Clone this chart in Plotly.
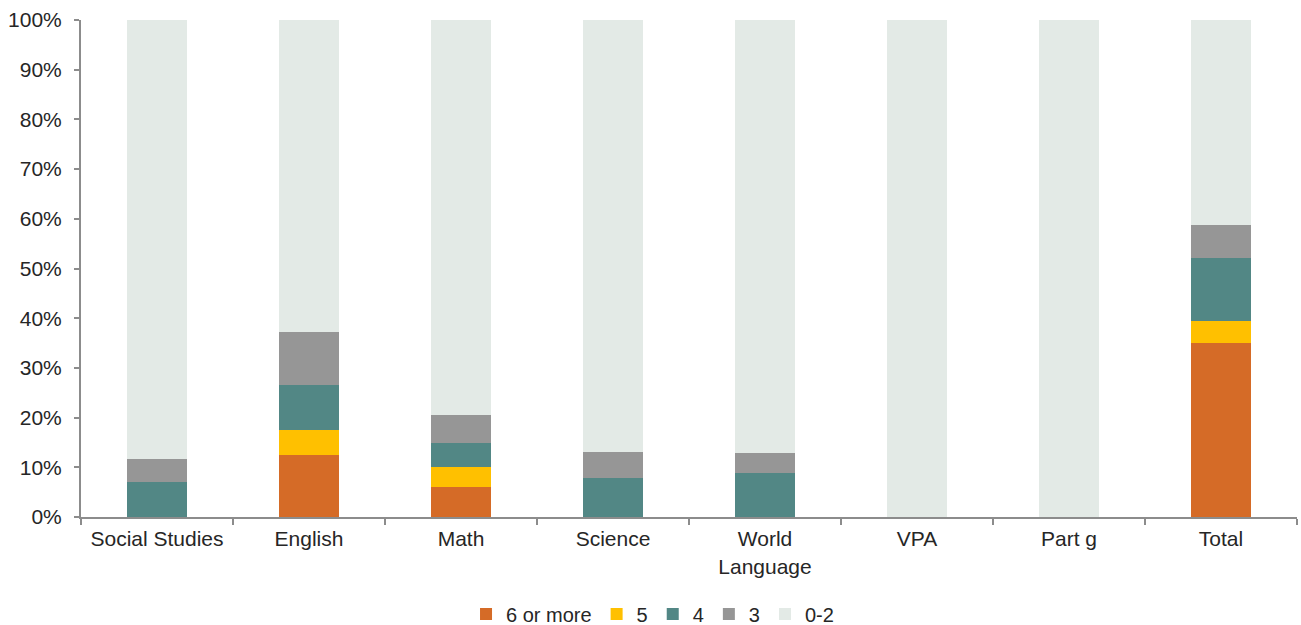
import plotly.graph_objects as go

categories = ["Social Studies", "English", "Math", "Science", "World<br>Language", "VPA", "Part g", "Total"]
six_plus = [0, 12.5, 6.0, 0, 0, 0, 0, 35.0]
five = [0, 5.1, 4.0, 0, 0, 0, 0, 4.4]
four = [7.0, 8.9, 4.9, 7.8, 8.9, 0, 0, 12.7]
three = [4.6, 10.7, 5.6, 5.3, 4.0, 0, 0, 6.7]
zero_two = [88.4, 62.8, 79.5, 86.9, 87.1, 100, 100, 41.2]

series = [
    ("6 or more", six_plus, "#D56B27"),
    ("5", five, "#FFC000"),
    ("4", four, "#528785"),
    ("3", three, "#969696"),
    ("0-2", zero_two, "#E3EAE6"),
]

fig = go.Figure()
for name, vals, color in series:
    fig.add_trace(go.Bar(
        x=categories, y=vals, name=name,
        marker=dict(color=color, line=dict(width=0)),
        hoverinfo="skip",
    ))

fig.update_layout(
    barmode="stack",
    bargap=0.6,
    width=1301, height=625,
    margin=dict(l=81, r=4, t=20, b=108, autoexpand=False),
    plot_bgcolor="white",
    paper_bgcolor="white",
    font=dict(family="Liberation Sans, Arial, sans-serif", size=21, color="#262626"),
    legend=dict(
        orientation="h", x=0.47, xanchor="center", y=-0.195, yanchor="middle",
        font=dict(size=20, color="#262626"),
        itemwidth=30, traceorder="normal",
    ),
    showlegend=True,
)
fig.update_yaxes(
    range=[0, 100], dtick=10, ticksuffix="%",
    showgrid=False, zeroline=False,
    showline=True, linecolor="#8c8c8c", linewidth=2,
    ticks="outside", ticklen=5, tickcolor="#8c8c8c", tickwidth=2,
    ticklabelstandoff=8, automargin=False,
)
fig.update_xaxes(
    showgrid=False, zeroline=False,
    showline=True, linecolor="#8c8c8c", linewidth=2,
    ticks="outside", ticklen=6, tickcolor="#8c8c8c", tickwidth=2,
    tickson="boundaries", ticklabelstandoff=2, automargin=False,
)

fig.write_html("out.html")
